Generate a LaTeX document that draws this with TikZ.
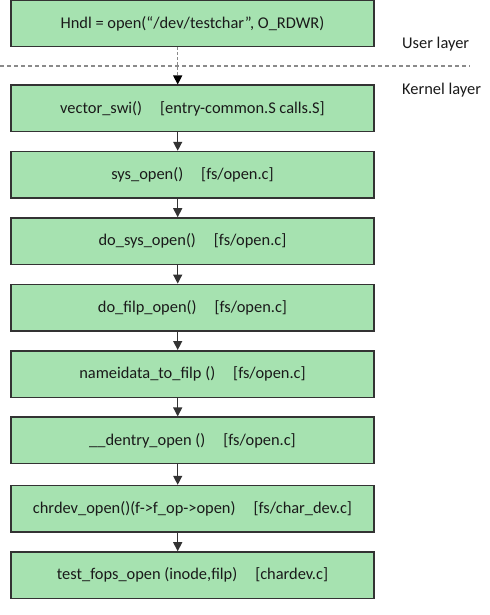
\documentclass[tikz,border=0pt]{standalone}
\usepackage{fontspec}
\setmainfont{Carlito}
\usetikzlibrary{arrows.meta}
\definecolor{boxgreen}{HTML}{A6E2B0}
\definecolor{boxline}{HTML}{333333}
\definecolor{txt}{HTML}{1A1A1A}
\definecolor{dashgray}{HTML}{8A8A8A}
\tikzset{
  box/.style={draw=boxline, line width=1.5bp, fill=boxgreen, minimum width=363bp, minimum height=46.5bp, inner sep=0pt, text=txt, font=\fontsize{16.4bp}{19bp}\selectfont},
  arr/.style={draw=boxline, line width=1.3bp, -{Triangle[length=9bp,width=9bp]}},
  darr/.style={draw=dashgray, line width=1.3bp, dash pattern=on 3bp off 2bp, -{Triangle[length=9bp,width=9bp,color=black,fill=black]}},
  lbl/.style={anchor=west, inner sep=0pt, text=txt, font=\fontsize{16.4bp}{19bp}\selectfont},
}
\newcommand{\gap}{\hspace{18bp}}
\begin{document}
\begin{tikzpicture}[x=1bp,y=-1bp]
\useasboundingbox (0,0) rectangle (490,615);
\fill[white] (0,0) rectangle (490,615);
\begin{scope}
\clip (0,0) rectangle (490,615);
\node[box] (b0) at (192.5,23.5) {Hndl = open(“/dev/testchar”, O\_RDWR)};
\end{scope}
\node[box] (b1) at (192.5,108.5) {vector\_swi()\gap[entry-common.S calls.S]};
\node[box] (b2) at (192.5,174.8) {sys\_open()\gap[fs/open.c]};
\node[box] (b3) at (192.5,241.2) {do\_sys\_open()\gap[fs/open.c]};
\node[box] (b4) at (192.5,307.6) {do\_filp\_open()\gap[fs/open.c]};
\node[box] (b5) at (192.5,374.0) {nameidata\_to\_filp ()\gap[fs/open.c]};
\node[box] (b6) at (192.5,440.4) {\_\_dentry\_open ()\gap[fs/open.c]};
\node[box] (b7) at (192.5,508.8) {chrdev\_open()(f->f\_op->open)\gap[fs/char\_dev.c]};
\node[box] (b8) at (192.5,575.2) {test\_fops\_open (inode,filp)\gap[chardev.c]};
\coordinate (dl) at (0,66);
\coordinate (dr) at (470,66);
\draw[dashgray, line width=1.2bp, dash pattern=on 4bp off 3bp] (dl) -- (dr);
\node[lbl] (ul) at (402,44.5) {User layer};
\node[lbl] (kl) at (402,90.5) {Kernel layer};
\draw[darr] ([xshift=-14.8bp]b0.south) -- ([xshift=-14.8bp]b1.north);
\foreach \a/\b in {b1/b2,b2/b3,b3/b4,b4/b5,b5/b6,b6/b7,b7/b8}{
  \draw[arr] ([xshift=-14.8bp]\a.south) -- ([xshift=-14.8bp]\b.north);
}
\end{tikzpicture}
\end{document}
